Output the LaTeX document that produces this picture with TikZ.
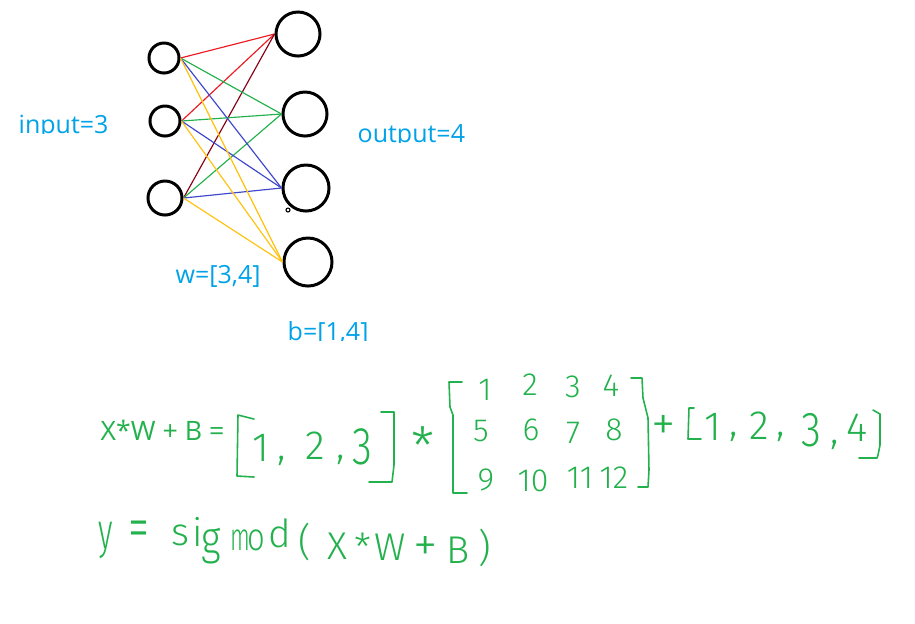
\documentclass[tikz,border=0pt]{standalone}
\usepackage{fontspec}
\setmainfont{Open Sans}
\newfontfamily\hand{Fira Sans Light}
\definecolor{pblue}{HTML}{00A2E8}
\definecolor{pgreen}{HTML}{22B14C}
\definecolor{pred}{HTML}{ED1C24}
\definecolor{pdred}{HTML}{880015}
\definecolor{pindigo}{HTML}{3F48CC}
\definecolor{pgold}{HTML}{FFC20E}
\begin{document}
\begin{tikzpicture}[x=0.01cm,y=-0.01cm,
  neuron/.style={circle, draw=black, line width=0.85pt, inner sep=0pt},
  lbl/.style={text=pblue, font=\fontsize{7.11pt}{8.5pt}\selectfont, inner sep=0pt, anchor=base west},
  eqlbl/.style={text=pgreen, font=\fontsize{7.6pt}{9pt}\selectfont, inner sep=0pt, anchor=base west},
  conn/.style={line width=0.33pt},
  brk/.style={draw=pgreen, line width=0.45pt, line join=round, line cap=round},
  hwA/.style={text=pgreen, inner sep=0pt, font=\hand\fontsize{11.6pt}{13pt}\selectfont},
  hwM/.style={text=pgreen, inner sep=0pt, font=\hand\fontsize{9.1pt}{11pt}\selectfont},
  hwS/.style={text=pgreen, inner sep=0pt, font=\hand\fontsize{11pt}{13pt}\selectfont},
  hwOp/.style={text=pgreen, inner sep=0pt, font=\hand\fontsize{14pt}{16pt}\selectfont}]
\useasboundingbox[fill=white] (0,0) rectangle (915,623);

% neurons
\node[neuron, minimum size=0.30cm] (i1) at (164,58) {};
\node[neuron, minimum size=0.30cm] (i2) at (165,121) {};
\node[neuron, minimum size=0.34cm] (i3) at (165,198) {};
\node[neuron, minimum size=0.44cm] (o1) at (298,34) {};
\node[neuron, minimum size=0.44cm] (o2) at (305,114) {};
\node[neuron, minimum size=0.46cm] (o3) at (306,188) {};
\node[neuron, minimum size=0.48cm] (o4) at (308,262) {};
\node[circle, draw=black, line width=0.3pt, inner sep=0pt, minimum size=0.04cm] (dot) at (288,210) {};

% connectors
\draw[conn, pred]  (i1.east) -- (o1.west);
\draw[conn, pred]  (i2.east) -- (o1.west);
\draw[conn, pdred] (i3.east) -- (o1.west);
\draw[conn, pgreen] (i1.east) -- (o2.west);
\draw[conn, pgreen] (i2.east) -- (o2.west);
\draw[conn, pgreen] (i3.east) -- (o2.west);
\draw[conn, pindigo] (i1.east) -- (o3.west);
\draw[conn, pindigo] (i2.east) -- (o3.west);
\draw[conn, pindigo] (i3.east) -- (o3.west);
\draw[conn, pgold] (i1.east) -- (o4.west);
\draw[conn, pgold] (i2.east) -- (o4.west);
\draw[conn, pgold] (i3.east) -- (o4.west);

% labels
\begin{scope}
\clip (0,90) rectangle (140,133.6);
\node[lbl] (inp) at (18,133) {input=3};
\end{scope}
\begin{scope}
\clip (340,100) rectangle (490,142.6);
\node[lbl] (outp) at (357,142) {output=4};
\end{scope}
\node[lbl] (wl) at (175,283) {w=[3,4]};
\begin{scope}
\clip (270,300) rectangle (400,340.6);
\node[lbl] (bl) at (287,340) {b=[1,4]};
\end{scope}

% equation
\node[eqlbl] (eq) at (100,440) {X*W + B =};

% [1,2,3]
\draw[brk] (254,419) -- (238,415) -- (237,476) -- (254,477);
\draw[brk] (381,412) -- (394,412) -- (394,465) -- (392,482) -- (369,482);
\node[hwA] (x1) at (261,448) {1};
\node[hwA] (xc1) at (282,461) {,};
\node[hwA] (x2) at (315,446) {2};
\node[hwA] (xc2) at (341,460) {,};
\node[hwA] (x3) at (362,447) {\scalebox{1}[1.3]{3}};
\node[text=pgreen, inner sep=0pt, font=\hand\fontsize{15pt}{17pt}\selectfont] (times) at (423,446) {*};

% W matrix
\draw[brk] (462,382) -- (449,382) -- (450,407) -- (453,415) -- (453,493) -- (467,493);
\draw[brk] (631,378) -- (642,378) -- (643,398) -- (648,418) -- (649,470) -- (648,487) -- (638,487);
\node[hwM] (w1) at (485,390) {1};
\node[hwM] (w2) at (530,385) {2};
\node[hwM] (w3) at (573,387) {3};
\node[hwM] (w4) at (611,386) {4};
\node[hwM] (w5) at (481,431) {5};
\node[hwM] (w6) at (531,430) {6};
\node[hwM] (w7) at (573,433) {7};
\node[hwM] (w8) at (614,430) {8};
\node[hwM] (w9) at (486,480) {9};
\node[hwM] (w10) at (533,481) {10};
\node[hwM] (w11) at (580,478) {11};
\node[hwM] (w12) at (614,478) {12};
\node[hwOp] (plus) at (664,428) {+};

% [1,2,3,4]
\draw[brk] (694,408) -- (689,408) -- (688,439) -- (701,439);
\draw[brk] (873,410) -- (880,414) -- (880,445) -- (878,455) -- (877,458) -- (859,458);
\node[hwA] (b1) at (713,427) {1};
\node[hwA] (bc1) at (734,437) {,};
\node[hwA] (b2) at (759,426) {2};
\node[hwA] (bc2) at (781,437) {,};
\node[hwA] (b3) at (811,430) {\scalebox{1}[1.2]{3}};
\node[hwA] (bc3) at (835,445) {,};
\node[hwA] (b4) at (857,428) {4};

% y = sigmod(X*W+B)
\node[hwS] (s1) at (106,540) {\scalebox{0.8}[1.3]{y}};
\node[hwS] (s2) at (139,535) {\scalebox{1.1}[1.6]{=}};
\node[hwS] (s3) at (180,535) {s};
\node[hwS] (s4) at (198,532) {i};
\node[hwS] (s5) at (211,546) {\scalebox{1}[1.2]{g}};
\node[hwS] (s6) at (240,540) {\scalebox{0.6}[1]{m}};
\node[hwS] (s7) at (256,540) {\scalebox{0.8}[1]{o}};
\node[hwS] (s8) at (280,533) {d};
\node[hwS] (s9) at (305,542) {(};
\node[hwS] (s10) at (337,546) {X};
\node[hwS] (s11) at (363,547) {*};
\node[hwS] (s12) at (390,547) {W};
\node[hwOp] (s13) at (426,549) {+};
\node[hwS] (s14) at (458,550) {B};
\node[hwS] (s15) at (485,548) {)};
\end{tikzpicture}
\end{document}
